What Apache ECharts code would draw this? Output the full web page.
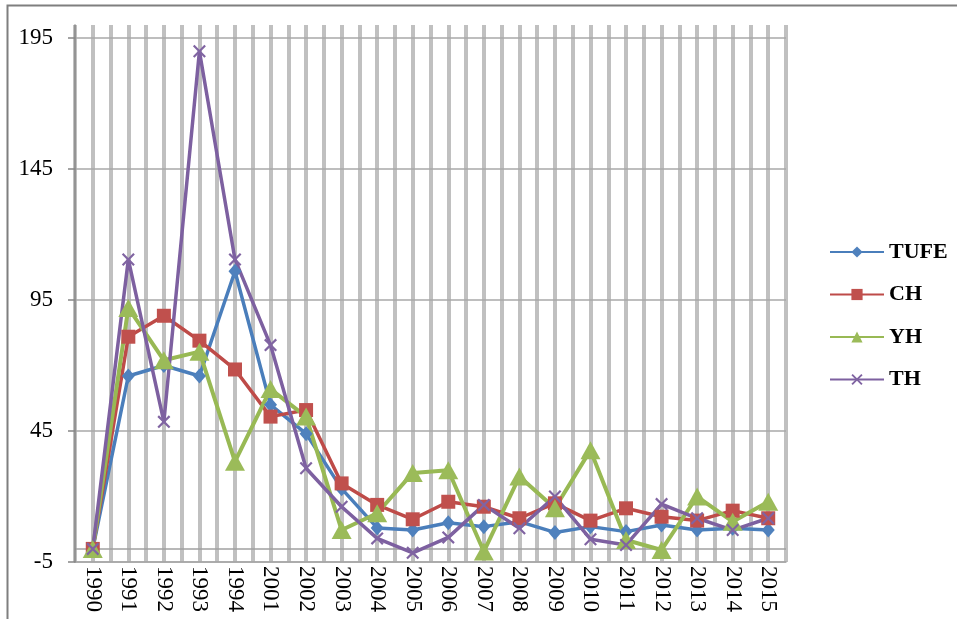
<!DOCTYPE html>
<html>
<head>
<meta charset="utf-8">
<script src="https://cdn.jsdelivr.net/npm/echarts@6/dist/echarts.min.js"></script>
<style>
html,body{margin:0;padding:0;background:#fff;}
#chart{width:957px;height:619px;}
</style>
</head>
<body>
<div id="chart"></div>
<script>
const categories = ['1990','1991','1992','1993','1994','2001','2002','2003','2004','2005','2006','2007','2008','2009','2010','2011','2012','2013','2014','2015'];
const yTicks = [-5, 45, 95, 145, 195];
const tufe = [0, 66, 70, 66, 106, 55, 44, 23, 8, 7.2, 10, 8.5, 10.4, 6.3, 8.5, 6.6, 9.1, 7.2, 7.9, 7.2];
const ch   = [0, 81, 89, 79.5, 68.5, 50.5, 53, 25, 16.8, 11.3, 18, 16.1, 11.7, 17.4, 10.8, 15.5, 12.3, 10.8, 14.6, 11.7];
const yh   = [0, 92, 72, 75.3, 33.3, 61, 50.5, 7.2, 13.6, 29, 30, -1, 27.6, 15.5, 37.7, 3.4, -0.4, 20, 10.4, 18];
const th   = [0, 110.5, 48.5, 190, 110.5, 77.8, 30.8, 16.1, 4, -1.5, 4.4, 16.8, 7.9, 20, 3.7, 1.5, 17.1, 11.7, 7.2, 11.7];

const FONT = "'Liberation Serif', 'DejaVu Serif', serif";
const chart = echarts.init(document.getElementById('chart'), null, {renderer: 'canvas'});
const xMark = 'path://M0,1.2 L1.2,0 L5,3.8 L8.8,0 L10,1.2 L6.2,5 L10,8.8 L8.8,10 L5,6.2 L1.2,10 L0,8.8 L3.8,5 Z';

chart.setOption({
  animation: false,
  backgroundColor: '#ffffff',
  graphic: [{
    type: 'rect',
    shape: {x: 7.5, y: 5.5, width: 1200, height: 800},
    style: {fill: 'none', stroke: '#7f7f7f', lineWidth: 2},
    silent: true, z: -10
  }],
  grid: {left: 75, right: 171, top: 25, bottom: 57, containLabel: false},
  legend: {
    orient: 'vertical',
    left: 824, top: 236,
    itemWidth: 54, itemHeight: 14, itemGap: 20.5,
    textStyle: {fontFamily: FONT, fontSize: 22, fontWeight: 'bold', color: '#000'},
    data: ['TUFE', 'CH', 'YH', 'TH']
  },
  xAxis: [{
    type: 'category',
    data: categories,
    boundaryGap: true,
    axisLine: {onZero: false, show: true, lineStyle: {color: '#a0a0a0', width: 1.5}},
    axisTick: {show: false},
    splitLine: {show: false},
    axisLabel: {rotate: -90, margin: 4, fontFamily: FONT, fontSize: 23, color: '#000', interval: 0}
  }, {
    type: 'value',
    min: 0, max: 40, interval: 1,
    show: true,
    axisLine: {show: false}, axisTick: {show: false}, axisLabel: {show: false},
    splitLine: {show: true, lineStyle: {color: '#c0c0c0', width: 4}},
    z: 0
  }],
  yAxis: {
    type: 'value',
    min: -5, max: 200,
    z: 1,
    axisLine: {show: true, onZero: false, lineStyle: {color: '#868686', width: 1.5}},
    axisTick: {show: true, length: 7, customValues: yTicks, lineStyle: {color: '#868686', width: 1.5}},
    axisLabel: {customValues: yTicks, margin: 22, fontFamily: FONT, fontSize: 23, color: '#000'},
    splitLine: {show: true, lineStyle: {color: '#a8a8a8', width: 1.5}}
  },
  series: [{
    name: 'TUFE', type: 'line', data: tufe,
    symbol: 'diamond', symbolSize: [13, 15],
    lineStyle: {color: '#4A7EBB', width: 3.5},
    itemStyle: {color: '#4F81BD'},
    markLine: {
      silent: true, symbol: 'none', label: {show: false},
      lineStyle: {color: '#a0a0a0', width: 1.5, type: 'solid'},
      data: [{yAxis: 0}],
      z: 1
    }
  }, {
    name: 'CH', type: 'line', data: ch,
    symbol: 'rect', symbolSize: 14,
    lineStyle: {color: '#BE4B48', width: 3.5},
    itemStyle: {color: '#C0504D'}
  }, {
    name: 'YH', type: 'line', data: yh,
    symbol: 'triangle', symbolSize: [20, 18],
    lineStyle: {color: '#98B954', width: 4},
    itemStyle: {color: '#9BBB59'}
  }, {
    name: 'TH', type: 'line', data: th,
    symbol: xMark, symbolSize: 13,
    lineStyle: {color: '#7D60A0', width: 3.5},
    itemStyle: {color: '#8064A2'}
  }]
});
</script>
</body>
</html>
